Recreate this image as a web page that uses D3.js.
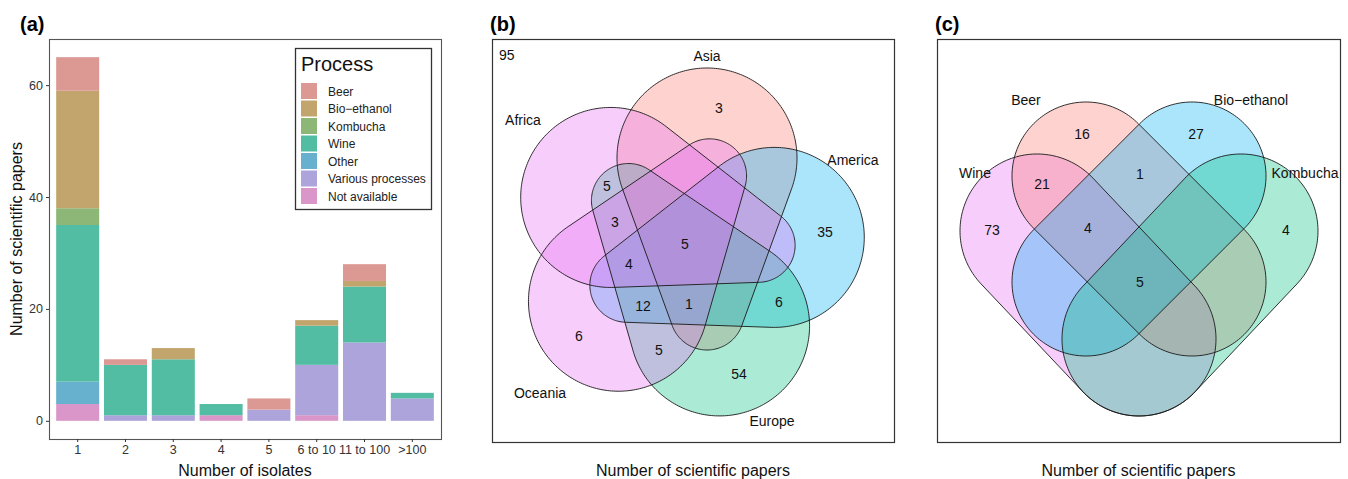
<!DOCTYPE html>
<html><head><meta charset="utf-8">
<script src="https://cdn.jsdelivr.net/npm/d3@7"></script>
<style>
body{margin:0;background:#fff}
svg{display:block}
text{font-family:"Liberation Sans",Arial,Helvetica,sans-serif}
</style>
</head><body>
<svg id="chart" width="1348" height="479"></svg>
<script>
// ================= DATA =================
// (a) stacked bars
const isolateBins = ["1","2","3","4","5","6 to 10","11 to 100",">100"];
const processes = ["Beer","Bio\u2212ethanol","Kombucha","Wine","Other","Various processes","Not available"];
const processColors = ["#DC9893","#C1A56D","#8CB777","#53BDA4","#67B1CF","#ACA4DB","#DA96C8"];
const beerPapers       = [6,1,0,0,2,0,3,0];
const bioEthanolPapers = [21,0,2,0,0,1,1,0];
const kombuchaPapers   = [3,0,0,0,0,0,0,0];
const winePapers       = [28,9,10,2,0,7,10,1];
const otherPapers      = [4,0,0,0,0,0,0,0];
const variousPapers    = [0,1,1,0,2,9,14,4];
const notAvailPapers   = [3,0,0,1,0,1,0,0];
const yTickValues = [0,20,40,60];

// (b) continents Venn
const continents = ["Asia","America","Europe","Oceania","Africa"];
const continentColors = ["#F8766D","#00B0F6","#00BF7D","#E76BF3","#E76BF3"];
const continentRegions = [
  ["Asia"],["America"],["Europe"],["Oceania"],
  ["Africa","Europe"],["Africa","Europe","Oceania"],
  ["Africa","America","Asia","Europe","Oceania"],
  ["Africa","America","Europe","Oceania"],
  ["America","Europe","Oceania"],
  ["America","Asia","Europe","Oceania"],
  ["America","Europe"],["Europe","Oceania"]
];
const continentRegionCounts = [3,35,54,6,5,3,5,4,12,1,6,5];
const continentNone = 95;

// (c) processes Venn
const vennProcesses = ["Wine","Beer","Bio\u2212ethanol","Kombucha"];
const vennProcessColors = ["#E76BF3","#F8766D","#00B0F6","#00BF7D"];
const processRegions = [
  ["Wine"],["Beer"],["Bio\u2212ethanol"],["Kombucha"],
  ["Wine","Beer"],["Beer","Bio\u2212ethanol"],
  ["Wine","Beer","Bio\u2212ethanol"],
  ["Wine","Beer","Bio\u2212ethanol","Kombucha"]
];
const processRegionCounts = [73,16,27,4,21,1,4,5];

const axisTitleX = "Number of isolates";
const axisTitleY = "Number of scientific papers";

// ================= DRAW =================
const svg = d3.select("#chart");

// ---------- panel (a)
const pa = {x0:49, x1:441, y0:39, y1:439};
const x = d3.scaleBand().domain(isolateBins).range([pa.x0, pa.x1]).paddingInner(0.1).paddingOuter(0.15);
const seriesList = [beerPapers,bioEthanolPapers,kombuchaPapers,winePapers,otherPapers,variousPapers,notAvailPapers];
const table = isolateBins.map((b,i)=>{const o={bin:b}; processes.forEach((p,k)=>o[p]=seriesList[k][i]); return o;});
const stacked = d3.stack().keys(processes.slice().reverse())(table);
const maxTotal = d3.max(table, d=>d3.sum(processes, p=>d[p]));
const pad = maxTotal*0.05;
const y = d3.scaleLinear().domain([-pad, maxTotal+pad]).range([pa.y1, pa.y0]);
const color = d3.scaleOrdinal().domain(processes).range(processColors);

const ga = svg.append("g");
ga.selectAll("g.layer").data(stacked).join("g").attr("class","layer")
  .attr("fill", d=>color(d.key))
  .selectAll("rect").data(d=>d.filter(s=>s[1]-s[0]>0)).join("rect")
  .attr("x", d=>x(d.data.bin)).attr("width", x.bandwidth())
  .attr("y", d=>y(d[1])).attr("height", d=>y(d[0])-y(d[1]));

ga.append("rect").attr("x",pa.x0+0.5).attr("y",pa.y0+0.5)
  .attr("width",pa.x1-pa.x0).attr("height",pa.y1-pa.y0)
  .attr("fill","none").attr("stroke","#555").attr("stroke-width",1.1);

const yAxis = ga.append("g").attr("transform",`translate(${pa.x0},0)`)
  .call(d3.axisLeft(y).tickValues(yTickValues).tickSize(3).tickPadding(3));
const xAxis = ga.append("g").attr("transform",`translate(0,${pa.y1})`)
  .call(d3.axisBottom(x).tickSize(3).tickPadding(3));
[yAxis,xAxis].forEach(g=>{
  g.select(".domain").remove();
  g.selectAll("line").attr("stroke","#333");
  g.selectAll("text").attr("fill","#333").style("font-size","12.5px")
   .style("font-family",'"Liberation Sans",Arial,sans-serif');
});

ga.append("text").attr("x",(pa.x0+pa.x1)/2).attr("y",476).attr("text-anchor","middle")
  .style("font-size","16px").attr("fill","#111").text(axisTitleX);
ga.append("text").attr("transform",`translate(22,${(pa.y0+pa.y1)/2}) rotate(-90)`)
  .attr("text-anchor","middle").style("font-size","16px").attr("fill","#111").text(axisTitleY);

// legend
const lg = ga.append("g");
lg.append("rect").attr("x",295.5).attr("y",48.5).attr("width",136).attr("height",161)
  .attr("fill","#fff").attr("stroke","#333").attr("stroke-width",1.3);
lg.append("text").attr("x",301).attr("y",71).style("font-size","20px").attr("fill","#111").text("Process");
const keyStep = 17.5;
processes.forEach((p,i)=>{
  const ky = 83 + i*keyStep;
  lg.append("rect").attr("x",301).attr("y",ky).attr("width",16).attr("height",16).attr("fill",color(p));
  lg.append("text").attr("x",328).attr("y",ky+12.5).style("font-size","12px").attr("fill","#222").text(p);
});

// panel titles
[["(a)",20],["(b)",490],["(c)",935]].forEach(([t,px])=>{
  svg.append("text").attr("x",px).attr("y",31).style("font-size","20px").style("font-weight","bold")
    .attr("fill","#000").text(t);
});

// ---------- label placement helper (pole of inaccessibility on a grid)
function makeRegionLocator(polys, box, step){
  const nx=Math.ceil(box.w/step), ny=Math.ceil(box.h/step);
  const m=new Int32Array(nx*ny);
  const bbs=polys.map(p=>[d3.min(p,d=>d[0]),d3.max(p,d=>d[0]),d3.min(p,d=>d[1]),d3.max(p,d=>d[1])]);
  for(let j=0;j<ny;j++)for(let i=0;i<nx;i++){
    const px=box.x+(i+0.5)*step, py=box.y+(j+0.5)*step; let v=0;
    for(let k=0;k<polys.length;k++){const b=bbs[k];
      if(px>=b[0]&&px<=b[1]&&py>=b[2]&&py<=b[3]&&d3.polygonContains(polys[k],[px,py])) v|=1<<k;}
    m[j*nx+i]=v;
  }
  const D=new Float64Array(nx*ny);
  for(let j=0;j<ny;j++)for(let i=0;i<nx;i++){
    const id=j*nx+i, v=m[id];
    const edge=i===0||j===0||i===nx-1||j===ny-1||m[id-1]!==v||m[id+1]!==v||m[id-nx]!==v||m[id+nx]!==v;
    D[id]=edge?0:1e9;
  }
  const S=Math.SQRT2;
  for(let j=1;j<ny;j++)for(let i=1;i<nx-1;i++){const id=j*nx+i;
    D[id]=Math.min(D[id],D[id-1]+1,D[id-nx]+1,D[id-nx-1]+S,D[id-nx+1]+S);}
  for(let j=ny-2;j>=0;j--)for(let i=nx-2;i>=1;i--){const id=j*nx+i;
    D[id]=Math.min(D[id],D[id+1]+1,D[id+nx]+1,D[id+nx+1]+S,D[id+nx-1]+S);}
  return function(mask){
    let best=-1,bi=-1;
    for(let id=0;id<m.length;id++) if(m[id]===mask&&D[id]>best){best=D[id];bi=id;}
    if(bi<0) return null;
    let sx=0,sy=0,n=0;
    for(let id=0;id<m.length;id++) if(m[id]===mask&&D[id]>=best*0.7){sx+=id%nx;sy+=Math.floor(id/nx);n++;}
    let ci=Math.round(sx/n), cj=Math.round(sy/n), cid=cj*nx+ci;
    if(!(m[cid]===mask&&D[cid]>=best*0.45)){ci=bi%nx;cj=Math.floor(bi/nx);}
    return [box.x+(ci+0.5)*step, box.y+(cj+0.5)*step];
  };
}
const lineClosed = d3.line().curve(d3.curveLinearClosed);

// ---------- panel (b)
const bBox={x:492,y:39,w:402,h:403};
const bC=[bBox.x+bBox.w/2-7, bBox.y+bBox.h/2+3.5];
const egg={axis:21,bigY:-86,bigR:90,smY:69,smR:37};
function eggPolygon(k){
  const th=Math.asin((egg.bigR-egg.smR)/(egg.smY-egg.bigY));
  const pts=[];
  for(let i=0;i<=160;i++){const a=th-(Math.PI+2*th)*i/160;
    pts.push([egg.axis+egg.bigR*Math.cos(a), egg.bigY+egg.bigR*Math.sin(a)]);}
  for(let i=0;i<=80;i++){const a=Math.PI-th-(Math.PI-2*th)*i/80;
    pts.push([egg.axis+egg.smR*Math.cos(a), egg.smY+egg.smR*Math.sin(a)]);}
  const r=k*72*Math.PI/180, c=Math.cos(r), s=Math.sin(r);
  return pts.map(([px,py])=>[bC[0]+px*c-py*s, bC[1]+px*s+py*c]);
}
const bPolys=continents.map((_,k)=>eggPolygon(k));
const gb=svg.append("g");
gb.append("rect").attr("x",bBox.x+0.5).attr("y",bBox.y+0.5).attr("width",bBox.w).attr("height",bBox.h)
  .attr("fill","#fff").attr("stroke","#333").attr("stroke-width",1.2);
bPolys.forEach((p,k)=>gb.append("path").attr("d",lineClosed(p)).attr("fill",continentColors[k]).attr("fill-opacity",0.33));
bPolys.forEach(p=>gb.append("path").attr("d",lineClosed(p)).attr("fill","none").attr("stroke","#1a1a1a").attr("stroke-width",0.9));
const bLabelOffsets=[[21,-188],[167,-84],[86,177],[-146,149],[-163,-124]];
continents.forEach((n,k)=>gb.append("text").attr("x",bC[0]+bLabelOffsets[k][0]).attr("y",bC[1]+bLabelOffsets[k][1])
  .attr("dy","0.35em").attr("text-anchor","middle").style("font-size","14px").attr("fill","#111").text(n));
const locB=makeRegionLocator(bPolys,bBox,2);
continentRegions.forEach((sets,i)=>{
  const mask=sets.reduce((a,s)=>a|(1<<continents.indexOf(s)),0);
  const pos=locB(mask); if(!pos) return;
  gb.append("text").attr("x",pos[0]).attr("y",pos[1]).attr("dy","0.35em").attr("text-anchor","middle")
    .style("font-size","14px").attr("fill","#111").text(continentRegionCounts[i]);
});
gb.append("text").attr("x",bBox.x+7).attr("y",bBox.y+21).style("font-size","14px").attr("fill","#111").text(continentNone);
gb.append("text").attr("x",bBox.x+bBox.w/2).attr("y",476).attr("text-anchor","middle")
  .style("font-size","16px").attr("fill","#111").text(axisTitleY);

// ---------- panel (c)
const cBox={x:937,y:39,w:403,h:403};
const cQ=[cBox.x+cBox.w/2+0.5, cBox.y+cBox.h/2-11.5];
const stadiumDefs=[
  {p1:[-102,2],p2:[0,110],r:77},
  {p1:[-53,-53],p2:[53,53],r:74},
  {p1:[53,-53],p2:[-53,53],r:74},
  {p1:[102,2],p2:[0,110],r:77}
];
function stadiumPolygon(def){
  const P1=[cQ[0]+def.p1[0],cQ[1]+def.p1[1]], P2=[cQ[0]+def.p2[0],cQ[1]+def.p2[1]];
  const al=Math.atan2(P2[1]-P1[1],P2[0]-P1[0]); const pts=[];
  for(let i=0;i<=90;i++){const a=al-Math.PI/2+Math.PI*i/90; pts.push([P2[0]+def.r*Math.cos(a),P2[1]+def.r*Math.sin(a)]);}
  for(let i=0;i<=90;i++){const a=al+Math.PI/2+Math.PI*i/90; pts.push([P1[0]+def.r*Math.cos(a),P1[1]+def.r*Math.sin(a)]);}
  return pts;
}
const cPolys=stadiumDefs.map(stadiumPolygon);
const gc=svg.append("g");
gc.append("rect").attr("x",cBox.x+0.5).attr("y",cBox.y+0.5).attr("width",cBox.w).attr("height",cBox.h)
  .attr("fill","#fff").attr("stroke","#333").attr("stroke-width",1.2);
cPolys.forEach((p,k)=>gc.append("path").attr("d",lineClosed(p)).attr("fill",vennProcessColors[k]).attr("fill-opacity",0.33));
cPolys.forEach(p=>gc.append("path").attr("d",lineClosed(p)).attr("fill","none").attr("stroke","#1a1a1a").attr("stroke-width",0.9));
const cLabelOffsets=[[-164,-56],[-113,-129],[112,-129],[166,-56]];
vennProcesses.forEach((n,k)=>gc.append("text").attr("x",cQ[0]+cLabelOffsets[k][0]).attr("y",cQ[1]+cLabelOffsets[k][1])
  .attr("dy","0.35em").attr("text-anchor","middle").style("font-size","14px").attr("fill","#111").text(n));
const locC=makeRegionLocator(cPolys,cBox,2);
processRegions.forEach((sets,i)=>{
  const mask=sets.reduce((a,s)=>a|(1<<vennProcesses.indexOf(s)),0);
  const pos=locC(mask); if(!pos) return;
  gc.append("text").attr("x",pos[0]).attr("y",pos[1]).attr("dy","0.35em").attr("text-anchor","middle")
    .style("font-size","14px").attr("fill","#111").text(processRegionCounts[i]);
});
gc.append("text").attr("x",cBox.x+cBox.w/2).attr("y",476).attr("text-anchor","middle")
  .style("font-size","16px").attr("fill","#111").text(axisTitleY);
</script>
</body></html>
